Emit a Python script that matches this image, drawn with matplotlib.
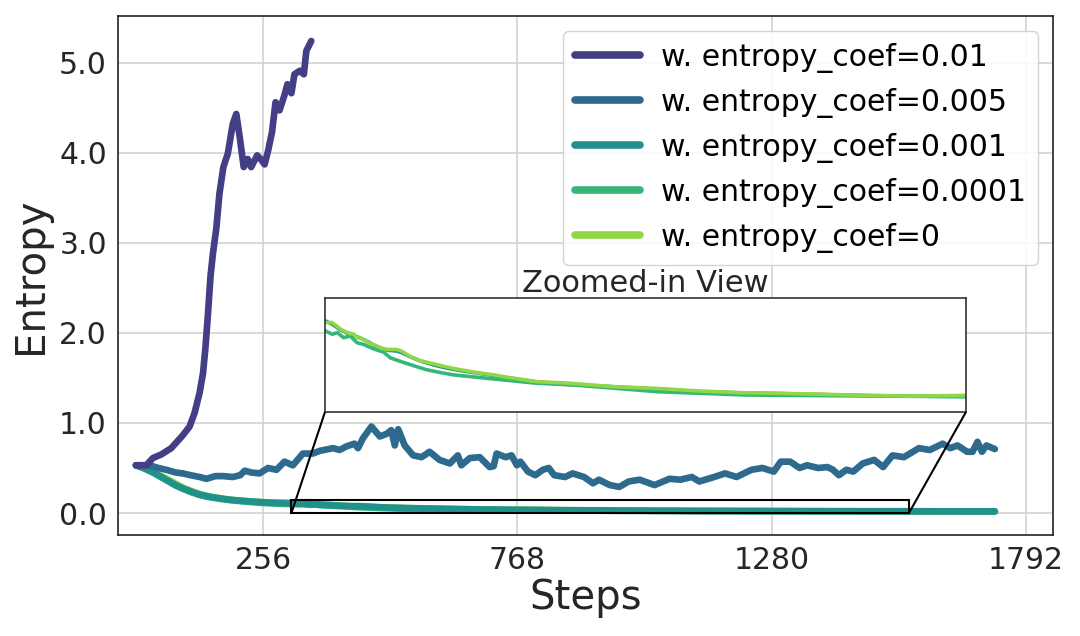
import matplotlib
matplotlib.use("Agg")
import matplotlib.pyplot as plt
from mpl_toolkits.axes_grid1.inset_locator import mark_inset

# ---- data ----
labels = ["w. entropy_coef=0.01", "w. entropy_coef=0.005", "w. entropy_coef=0.001",
          "w. entropy_coef=0.0001", "w. entropy_coef=0"]
colors = ["#433e85", "#2d6a8e", "#21918c", "#35b779", "#8fd744"]

steps_001 = [0, 21, 34, 51, 71, 94, 108, 118, 128, 135, 140, 145, 150, 155, 162, 168, 176,
             185, 195, 202, 209, 217, 225, 232, 244, 251, 259, 266, 274, 281, 289, 298, 305,
             313, 319, 330, 338, 343, 353]
ent_001 = [0.53, 0.53, 0.61, 0.65, 0.72, 0.86, 0.96, 1.11, 1.33, 1.55, 1.84, 2.21, 2.62, 2.88,
           3.17, 3.54, 3.84, 3.99, 4.32, 4.43, 4.17, 3.84, 3.93, 3.84, 3.97, 3.93, 3.87, 4.02,
           4.23, 4.56, 4.47, 4.62, 4.76, 4.66, 4.87, 4.91, 4.87, 5.13, 5.24]

steps_0005 = [0, 27, 45, 61, 80, 94, 110, 128, 142, 160, 175, 195, 210, 219, 232, 249, 266, 283,
              299, 316, 336, 356, 370, 397, 410, 424, 440, 447, 457, 474, 491, 505, 514, 521,
              528, 541, 558, 575, 591, 611, 632, 648, 655, 672, 692, 712, 720, 726, 744, 756,
              767, 774, 789, 804, 819, 831, 842, 864, 879, 902, 920, 932, 954, 973, 992, 1014,
              1044, 1074, 1096, 1119, 1134, 1164, 1186, 1209, 1239, 1261, 1284, 1298, 1317,
              1336, 1351, 1373, 1392, 1403, 1415, 1430, 1444, 1463, 1486, 1504, 1523, 1546,
              1564, 1576, 1598, 1624, 1639, 1654, 1673, 1684, 1694, 1703, 1712, 1729]
ent_0005 = [0.53, 0.53, 0.50, 0.48, 0.45, 0.44, 0.42, 0.40, 0.38, 0.41, 0.41, 0.40, 0.42, 0.47,
            0.45, 0.44, 0.50, 0.48, 0.57, 0.53, 0.66, 0.66, 0.69, 0.72, 0.70, 0.74, 0.77, 0.72,
            0.83, 0.96, 0.85, 0.88, 0.92, 0.75, 0.93, 0.75, 0.64, 0.62, 0.68, 0.59, 0.55, 0.64,
            0.53, 0.61, 0.62, 0.51, 0.52, 0.66, 0.62, 0.64, 0.53, 0.57, 0.46, 0.42, 0.48, 0.50,
            0.42, 0.40, 0.44, 0.40, 0.33, 0.37, 0.31, 0.29, 0.35, 0.37, 0.31, 0.38, 0.37, 0.40,
            0.35, 0.40, 0.44, 0.40, 0.48, 0.50, 0.46, 0.57, 0.57, 0.50, 0.53, 0.50, 0.51, 0.48,
            0.42, 0.48, 0.46, 0.55, 0.59, 0.51, 0.64, 0.62, 0.68, 0.72, 0.70, 0.77, 0.72, 0.75,
            0.68, 0.68, 0.79, 0.68, 0.75, 0.71]

steps_0001 = [0, 16, 32, 48, 64, 80, 96, 112, 128, 144, 160, 176, 192, 208, 224, 240, 256, 272,
              288, 304, 314, 327, 343, 356, 369, 385, 398, 411, 420, 433, 452, 462, 478, 497,
              523, 549, 575, 607, 639, 665, 691, 723, 780, 876, 958, 1040, 1122, 1203, 1285,
              1367, 1448, 1556, 1640, 1729]
ent_0001 = [0.53, 0.50, 0.46, 0.41, 0.36, 0.31, 0.27, 0.235, 0.205, 0.185, 0.17, 0.157, 0.146,
            0.138, 0.131, 0.125, 0.119, 0.115, 0.112, 0.111, 0.112, 0.108, 0.101, 0.097, 0.094,
            0.090, 0.086, 0.081, 0.079, 0.076, 0.075, 0.073, 0.068, 0.063, 0.058, 0.054, 0.051,
            0.048, 0.045, 0.042, 0.040, 0.037, 0.034, 0.031, 0.028, 0.025, 0.0235, 0.0225,
            0.0213, 0.0202, 0.0195, 0.0192, 0.0185, 0.018]

steps_00001 = [0, 16, 32, 48, 64, 80, 96, 112, 128, 144, 160, 176, 192, 208, 224, 240, 256, 272,
               288, 304, 314, 327, 337, 349, 362, 375, 388, 407, 427, 440, 459, 485, 510, 536,
               562, 594, 626, 658, 691, 723, 794, 959, 1130, 1300, 1556, 1640, 1729]
ent_00001 = [0.53, 0.495, 0.455, 0.405, 0.355, 0.305, 0.265, 0.23, 0.20, 0.18, 0.165, 0.152,
             0.141, 0.133, 0.125, 0.118, 0.112, 0.107, 0.103, 0.100, 0.0997, 0.0956, 0.0977,
             0.0914, 0.0935, 0.0852, 0.0831, 0.0777, 0.0735, 0.0665, 0.0623, 0.0569, 0.052,
             0.0486, 0.0457, 0.0436, 0.0416, 0.0395, 0.0374, 0.0354, 0.0333, 0.0249, 0.0209,
             0.020, 0.0188, 0.018, 0.018]

steps_0 = [0, 16, 32, 48, 64, 80, 96, 112, 128, 144, 160, 176, 192, 208, 224, 240, 256, 272,
           288, 304, 314, 327, 343, 356, 369, 375, 385, 398, 411, 420, 433, 452, 462, 478, 497,
           523, 549, 575, 588, 607, 639, 665, 691, 723, 787, 876, 958, 1040, 1122, 1203, 1285,
           1367, 1448, 1556, 1640, 1729]
ent_0 = [0.53, 0.50, 0.465, 0.42, 0.375, 0.325, 0.28, 0.245, 0.212, 0.19, 0.173, 0.158, 0.147,
         0.139, 0.132, 0.126, 0.121, 0.117, 0.114, 0.111, 0.110, 0.110, 0.102, 0.0977, 0.0956,
         0.0914, 0.0902, 0.0852, 0.0819, 0.079, 0.0769, 0.0769, 0.0748, 0.0685, 0.0632, 0.0594,
         0.0553, 0.052, 0.0507, 0.0486, 0.0457, 0.0429, 0.0404, 0.0374, 0.0354, 0.031, 0.029,
         0.0258, 0.0237, 0.0229, 0.0217, 0.0204, 0.0196, 0.0204, 0.019, 0.019]

xticks = [256, 768, 1280, 1792]
yticks = [0.0, 1.0, 2.0, 3.0, 4.0, 5.0]

series = [(steps_001, ent_001), (steps_0005, ent_0005), (steps_0001, ent_0001),
          (steps_00001, ent_00001), (steps_0, ent_0)]

plt.rcParams['font.family'] = ['DejaVu Sans']
text_color = "#262626"

fig = plt.figure(figsize=(10.8, 6.36), dpi=100)
ax = fig.add_axes([0.1093, 0.1588, 0.8657, 0.816])

# plot last series first so the purple / blue lines sit on top
handles = [None] * len(series)
for i in reversed(range(len(series))):
    s, e = series[i]
    handles[i], = ax.plot(s, e, color=colors[i], lw=4.8, label=labels[i],
                          solid_capstyle="round", zorder=3)

ax.set_xlim(-36, 1846)
ax.set_ylim(-0.244, 5.517)
ax.set_xticks(xticks)
ax.set_yticks(yticks)
ax.set_yticklabels([f"{v:.1f}" for v in yticks])
ax.tick_params(axis="both", length=0, pad=8, labelsize=21.5, labelcolor=text_color)
ax.grid(True, color="#d0d0d0", lw=1.1)
ax.set_axisbelow(True)
for sp in ax.spines.values():
    sp.set_color("#222222")
    sp.set_linewidth(1.2)
ax.set_xlabel("Steps", fontsize=29, color=text_color, labelpad=2)
ax.set_ylabel("Entropy", fontsize=29, color=text_color, labelpad=6)

leg = ax.legend(handles=handles, loc="upper right", fontsize=21.5, frameon=True,
                handlelength=2.15, handletextpad=0.72, borderaxespad=0.5, framealpha=0.85,
                labelspacing=0.5)
leg.get_frame().set_edgecolor("#cccccc")
for line in leg.get_lines():
    line.set_linewidth(5.5)

# zoomed-in inset on the three low-entropy runs
axins = fig.add_axes([0.3009, 0.3522, 0.5935, 0.179])
for i in [2, 3, 4]:
    s, e = series[i]
    axins.plot(s, e, color=colors[i], lw=2.6)
axins.set_xlim(313, 1556)
axins.set_ylim(0.0, 0.14)
axins.set_xticks([])
axins.set_yticks([])
axins.grid(False)
for sp in axins.spines.values():
    sp.set_color("#333333")
    sp.set_linewidth(1.2)
axins.set_title("Zoomed-in View", fontsize=22, color=text_color, pad=4)
mark_inset(ax, axins, loc1=3, loc2=4, fc="none", ec="black", lw=1.5, zorder=4)

fig.savefig("out.png", dpi=100)
